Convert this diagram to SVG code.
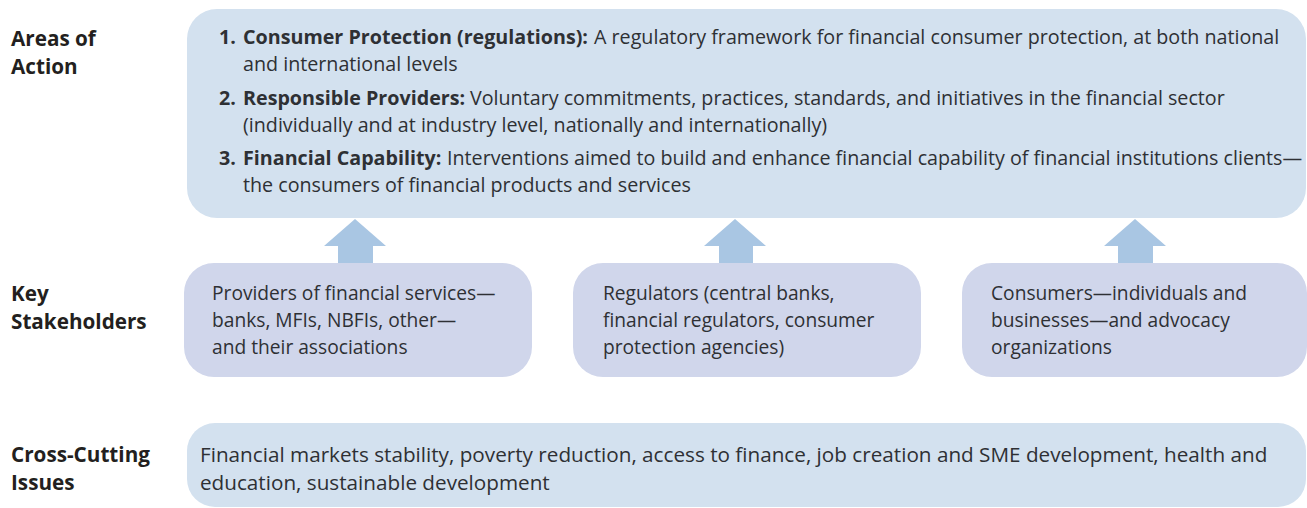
<svg xmlns="http://www.w3.org/2000/svg" width="1307" height="508" viewBox="0 0 1307 508">
  <style>
    text { font-family: "Open Sans", "Noto Sans", sans-serif; fill: #2e3034; }
    .label { font-weight: bold; font-size: 20.7px; fill: #231f20; }
    .body { font-size: 19.7px; }
    .stk { font-size: 19.2px; }
    .cc { font-size: 20.7px; }
    .b { font-weight: bold; }
    .area { fill: #d3e1ef; }
    .stake { fill: #d0d6eb; }
    .arrow { fill: #a9c6e3; }
  </style>

  <rect width="1307" height="508" fill="#ffffff"/>

  <!-- row labels -->
  <g id="label-areas">
    <text class="label" x="11" y="46">Areas of</text>
    <text class="label" x="11" y="74">Action</text>
  </g>
  <g id="label-stakeholders">
    <text class="label" x="11" y="301">Key</text>
    <text class="label" x="11" y="329">Stakeholders</text>
  </g>
  <g id="label-cross">
    <text class="label" x="11" y="462">Cross-Cutting</text>
    <text class="label" x="11" y="490">Issues</text>
  </g>

  <!-- areas of action -->
  <g id="areas">
    <rect class="area" x="187" y="9" width="1119" height="209" rx="30"/>
    <text class="body b" x="219" y="44">1.</text>
    <text class="body b" x="243" y="44">Consumer Protection (regulations):</text>
    <text class="body" x="594" y="44">A regulatory framework for financial consumer protection, at both national</text>
    <text class="body" x="243" y="71">and international levels</text>
    <text class="body b" x="219" y="105">2.</text>
    <text class="body b" x="243" y="105">Responsible Providers:</text>
    <text class="body" x="470" y="105">Voluntary commitments, practices, standards, and initiatives in the financial sector</text>
    <text class="body" x="243" y="132">(individually and at industry level, nationally and internationally)</text>
    <text class="body b" x="219" y="165">3.</text>
    <text class="body b" x="243" y="165">Financial Capability:</text>
    <text class="body" x="447" y="165">Interventions aimed to build and enhance financial capability of financial institutions clients—</text>
    <text class="body" x="243" y="192">the consumers of financial products and services</text>
  </g>

  <!-- connectors: stakeholders feed the areas of action -->
  <g id="connectors">
    <polygon class="arrow" points="355,219 386,246 373,246 373,263 338,263 338,246 324,246"/>
    <polygon class="arrow" points="735,219 766,246 753,246 753,263 719,263 719,246 704,246"/>
    <polygon class="arrow" points="1135,219 1166,246 1153,246 1153,263 1118,263 1118,246 1104,246"/>
  </g>

  <!-- key stakeholders -->
  <g id="providers">
    <rect class="stake" x="184" y="263" width="348" height="114" rx="30"/>
    <text class="stk" x="212" y="300">Providers of financial services—</text>
    <text class="stk" x="212" y="327">banks, MFIs, NBFIs, other—</text>
    <text class="stk" x="212" y="354">and their associations</text>
  </g>
  <g id="regulators">
    <rect class="stake" x="573" y="263" width="348" height="114" rx="30"/>
    <text class="stk" x="603" y="300">Regulators (central banks,</text>
    <text class="stk" x="603" y="327">financial regulators, consumer</text>
    <text class="stk" x="603" y="354">protection agencies)</text>
  </g>
  <g id="consumers">
    <rect class="stake" x="962" y="263" width="345" height="114" rx="30"/>
    <text class="stk" x="991" y="300">Consumers—individuals and</text>
    <text class="stk" x="991" y="327">businesses—and advocacy</text>
    <text class="stk" x="991" y="354">organizations</text>
  </g>

  <!-- cross-cutting issues -->
  <g id="cross-cutting">
    <rect class="area" x="187" y="423" width="1119" height="84" rx="28"/>
    <text class="cc" x="200" y="462">Financial markets stability, poverty reduction, access to finance, job creation and SME development, health and</text>
    <text class="cc" x="200" y="490">education, sustainable development</text>
  </g>
</svg>
